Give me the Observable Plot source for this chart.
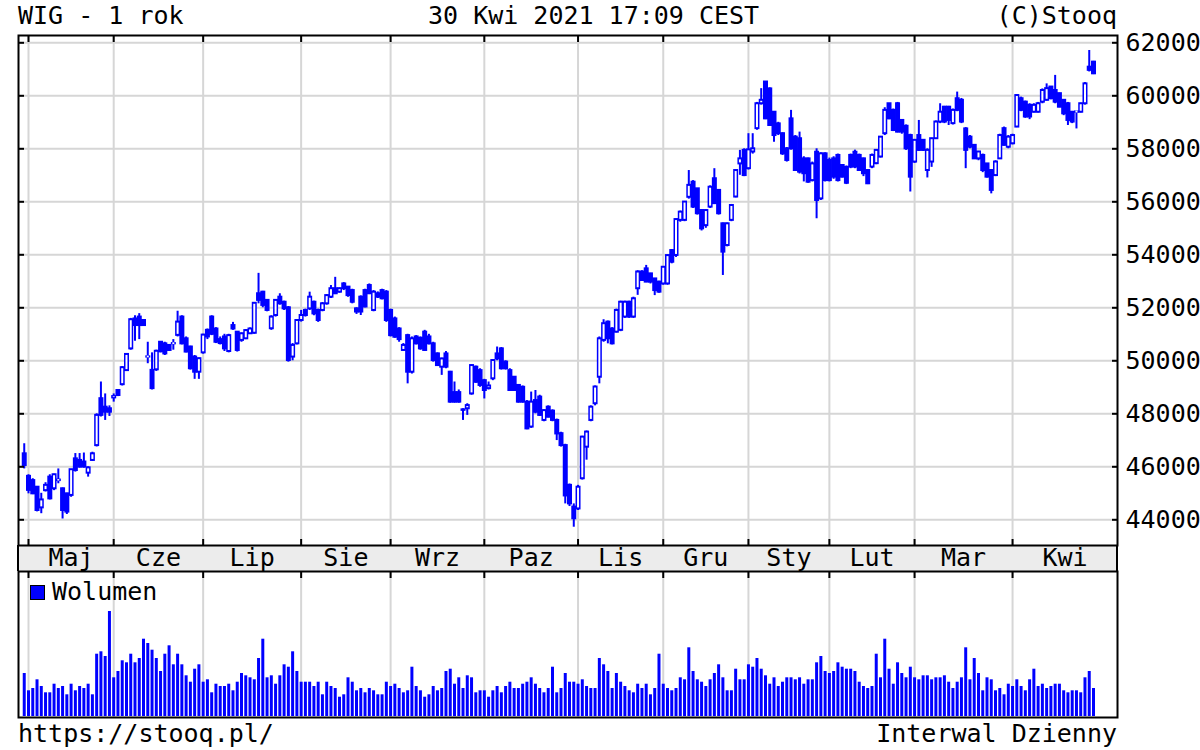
<!DOCTYPE html>
<html><head><meta charset="utf-8">
<script src="https://cdn.jsdelivr.net/npm/d3@7"></script>
<script src="https://cdn.jsdelivr.net/npm/@observablehq/plot@0.6"></script>
<style>
body{margin:0;background:#fff;}
#wrap{position:relative;width:1200px;height:750px;font-family:"DejaVu Sans Mono",monospace;font-size:25px;color:#000;overflow:hidden;}
.t{position:absolute;line-height:25px;white-space:pre;}
#band{position:absolute;left:17px;top:545px;width:1101px;height:26px;background:#ececec;box-sizing:border-box;border-left:2px solid #000;border-right:2px solid #000;}
#price,#vol{position:absolute;left:0;}
#price{top:35px;}
#vol{top:570px;}
#legsq{position:absolute;left:30px;top:585px;width:13px;height:13px;background:#0000ff;border:1.5px solid #000;}
</style></head><body>
<div id="wrap">
  <div class="t" style="left:18px;top:3px">WIG - 1 rok</div>
  <div class="t" style="left:428px;top:3px">30 Kwi 2021 17:09 CEST</div>
  <div class="t" style="right:83px;top:3px">(C)Stooq</div>
  <div id="band"></div>
  <div id="price"></div>
  <div id="vol"></div>
  <div id="legsq"></div>
  <div class="t" style="left:52px;top:579px">Wolumen</div>
  <div class="t" style="left:18px;top:721px">https://stooq.pl/</div>
  <div class="t" style="right:83px;top:721px">Interwal Dzienny</div>
</div>
<script>
// Trading-day index 0 = 30 Apr 2020 ... 251 = 30 Apr 2021
const monthNames = ["Maj","Cze","Lip","Sie","Wrz","Paz","Lis","Gru","Sty","Lut","Mar","Kwi"];
const monthStart = [1,21,42,65,86,108,130,150,170,189,209,232];
const priceTicks = [44000,46000,48000,50000,52000,54000,56000,58000,60000,62000];

const open = [
46490,45640,45480,45230,44450,45100,45610,45170,45480,45170,
44980,44920,46300,46240,46180,45760,46240,46800,48570,48250,
48190,48600,48880,49100,49630,50450,51580,51650,51520,50140,
49640,49660,50700,50640,50580,50640,50960,51650,50830,50520,
50140,49570,50300,51150,51650,51200,50800,50900,50350,51330,
51080,50770,50830,51020,51040,52530,52590,52280,51210,51710,
52400,52210,52000,50140,50640,51520,51900,51960,52210,51900,
51900,52150,52400,52720,52590,52900,52780,52650,51960,52400,
52650,52840,51900,52530,52650,52590,51900,51580,51200,50390,
50950,49570,50900,50850,51080,50900,50640,50260,49760,50260,
49570,48800,48800,48150,48190,48750,49760,49630,49250,48950,
49320,50260,50450,49950,49630,49380,49070,49000,48440,47500,
48500,48630,47750,48250,48100,47750,47250,46800,45300,44480,
44410,45550,46740,47750,48380,49380,50770,51460,51200,51080,
51150,51650,52210,51650,52720,53350,53470,53280,53090,52970,
52900,52900,54160,53975,55300,55300,56170,56740,56490,55670,
55100,55800,56870,56430,55170,54350,55300,56180,57430,57940,
57250,57880,58760,59700,60520,60260,59380,58940,58570,58000,
59130,58440,58380,57620,57620,56800,57870,56110,57810,57560,
57620,57750,57370,57300,57750,57870,57750,57620,57180,57310,
57440,57690,58570,59700,59450,59700,59070,58850,58500,57500,
58500,58320,57180,57500,58380,59010,59570,59570,58950,59890,
59830,58750,58440,58130,57620,57750,57430,57180,56990,57620,
58760,58060,58190,58820,59890,59760,59640,59380,59380,59760,
59830,60330,60200,60080,59830,59700,59380,59380,59380,59700,
61080,61270];

const high = [
46870,45700,45550,45250,45000,45400,45700,45720,45920,45200,
45000,45900,46500,46500,46520,46000,46550,48000,49200,48750,
48300,48750,48900,49780,50260,51600,51700,51780,51550,50700,
50300,50400,50720,50700,50600,50800,51870,51700,50900,50550,
50200,50100,51000,51200,51700,51250,50900,51000,51000,51450,
51100,51050,51180,51240,52200,53300,52620,52300,51700,52300,
52530,52250,52050,50650,51550,51900,51950,52590,52250,51950,
52200,52500,52840,53150,52750,52950,52800,52700,52000,52450,
52700,52900,52650,52600,52700,52650,51950,51650,51250,50650,
51000,50900,50950,50900,51150,51000,50700,50300,50100,50350,
49600,49200,48900,48190,48380,49850,49800,49700,49300,49200,
50050,50520,50500,50000,49700,49400,49100,49050,48500,48820,
48880,48700,48150,48300,48150,47800,47300,46850,45350,44600,
45300,47150,47350,48300,49050,50900,51550,51500,51250,51950,
52250,52250,52250,52400,53400,53400,53600,53300,53100,53000,
53550,54000,54200,55350,55650,56000,57180,56800,56500,55700,
55700,56600,57250,56450,55200,55200,55900,57200,57940,58000,
58570,58570,59750,60270,60520,60300,59400,59000,58600,58050,
59450,58500,58630,57700,57650,57500,58000,57850,57850,57650,
57700,57800,57400,57350,57800,57950,57800,57650,57200,57800,
57950,58450,59550,59700,59500,59750,59100,58900,58550,58350,
59070,58350,58000,58400,59050,59700,59600,59600,59500,60140,
59900,58800,58500,58150,57900,57800,57450,57200,57550,58550,
58820,58500,58550,60050,59950,59800,59700,59700,59750,60260,
60450,60350,60770,60100,59850,59750,59400,59400,59720,60500,
61710,61300];

const low = [
45920,44980,44950,44300,44230,45050,44750,45100,45360,44030,
44200,44850,45800,45950,45950,45610,46200,46750,47880,47750,
47900,48440,48650,49050,49600,50400,50740,50800,51300,49890,
48900,49600,50300,50200,50350,50400,50900,50600,50300,49650,
49300,49300,50250,50800,50950,50650,50600,50350,50300,51150,
50330,50700,50800,51000,51000,52150,52000,51850,51150,51650,
52100,51900,49950,50000,50600,51460,51650,51900,51700,51450,
51850,52100,52350,52500,52550,52650,52400,52150,51750,51710,
52000,52500,51850,52350,52300,51450,50900,50850,50700,50350,
49130,49500,50600,50400,50350,50600,49950,49800,49450,49700,
48400,48400,48400,47750,47940,48700,49150,49000,48560,48900,
49250,50000,49650,49650,48850,48850,48400,48400,47400,47450,
48000,47900,47700,47850,47700,46990,46750,44600,44500,43720,
44350,45500,46250,47700,48300,49130,50700,50640,50600,51050,
51100,51600,51600,51600,52470,53000,52950,52900,52460,52550,
52850,52850,53660,53900,55230,55250,56100,55750,55500,54900,
55000,55750,55900,55500,53220,54300,55250,56150,57000,56950,
57200,57800,58700,59650,59100,58850,58250,58500,57750,57500,
57950,57150,57050,56750,56700,56750,55360,56050,56750,56750,
56850,56750,56900,56650,57250,57250,57150,56950,56650,57250,
57400,57650,58500,59100,58650,58600,58550,57940,56370,57450,
57900,57900,56900,57300,58350,58950,58950,58880,58900,59400,
58950,57250,58000,57600,57550,57100,56900,56300,56950,57600,
58100,58000,58150,58800,59400,59150,59100,59350,59350,59700,
59800,59850,59700,59550,59250,58880,58950,58750,59350,59650,
60900,60800];

const close = [
46050,45110,44980,44350,44750,45300,44790,45700,45500,44350,
44290,45890,45860,45990,45990,45960,46490,47940,47940,48060,
48060,48650,48690,49740,50240,51550,51330,51330,51330,50150,
48950,50360,50340,50260,50390,50650,51460,50640,50330,49700,
49570,50080,50970,50900,51000,50700,50650,50450,50950,51200,
50390,51020,51140,51200,52170,52280,52090,51900,51650,52280,
52150,51960,50010,50580,51520,51710,51710,52400,51770,51520,
52150,52460,52720,52530,52720,52720,52460,52210,51840,51840,
52030,52530,52590,52400,52340,51520,50950,50890,50800,50580,
49570,50830,50640,50450,50390,50640,50010,49820,50070,49760,
48440,48440,48440,48130,48310,49820,49190,49070,48880,49050,
50010,50070,49700,49700,48880,48880,48440,48440,47430,48440,
48060,47940,48120,47870,47750,47240,46800,44900,44600,44040,
45230,47120,47310,48250,49010,50830,51400,50830,50640,51900,
52210,52210,51650,52340,53350,53030,52970,52970,52650,52590,
53530,53970,53720,55330,55610,55990,56620,55800,55550,54980,
55670,56550,55930,55550,54100,55170,55860,57180,57620,56990,
57960,58000,59700,59830,59130,58880,58500,58570,57810,57560,
58000,57180,57120,57060,56740,57430,56050,57810,56800,56800,
56930,56800,56930,56700,57310,57310,57180,57060,56680,57750,
57940,58440,59450,59130,58690,58630,58630,58000,56930,58320,
57940,57940,57940,58380,59010,59380,59010,59070,59450,59450,
59010,57940,58060,57620,57880,57180,56930,56430,57500,58500,
58130,58440,58500,60010,59450,59200,59200,59640,59700,60200,
60270,59890,59760,59570,59320,59070,59010,59390,59700,60450,
60960,60830];

// Wolumen (relative units)
const volume = [
43,25.7,28,36.7,30,23.7,23.7,32.3,28,30,
21.7,32.3,25.7,30,28,32.3,21.7,62.3,64.7,60,
105,38.7,45,55.7,53.7,62.3,53.7,58,77.3,73,
66.3,58,45,62.3,70.7,51.7,62.3,51.7,40.7,34.3,
47.3,51.7,34.3,36.7,23.7,32.3,30,30,32.3,25.7,
34.3,43,40.7,38.7,36.7,58,77.3,38.7,40.7,32.3,
40.7,51.7,49.3,64.7,45,34.3,34.3,34.3,30,34.3,
21.7,34.3,30,28,19.3,21.7,38.7,34.3,25.7,28,
23.7,28,25.7,21.7,21.7,34.3,30,32.3,28,23.7,
25.7,49.3,30,25.7,19.3,21.7,30,25.7,28,45,
47.3,32.3,38.7,28,40.7,38.7,23.7,25.7,25.7,19.3,
25.7,30,23.7,30,34.3,28,28,32.3,34.3,38.7,
32.3,28,23.7,28,49.3,23.7,28,43,34.3,34.3,
32.3,36.7,30,28,28,58,51.7,45,28,43,
34.3,30,25.7,23.7,32.3,28,32.3,21.7,28,62.3,
32.3,28,25.7,28,38.7,36.7,68.7,45,36.7,34.3,
30,36.7,43,51.7,38.7,25.7,25.7,47.3,36.7,36.7,
51.7,49.3,58,47.3,40.7,32.3,38.7,30,34.3,38.7,
38.7,36.7,38.7,32.3,36.7,36.7,53.7,60,45,43,
45,53.7,49.3,47.3,47.3,45,34.3,30,28,30,
62.3,38.7,77.3,47.3,32.3,53.7,43,38.7,49.3,38.7,
36.7,40.7,40.7,36.7,38.7,38.7,40.7,34.3,28,34.3,
38.7,68.7,36.7,58,43,25.7,38.7,36.7,25.7,28,
21.7,32.3,30,36.7,30,25.7,36.7,47.3,30,32.3,
28,30,32.3,32.3,25.7,23.7,25.7,25.7,23.7,38.7,
45,28];

const BLUE = "#0000ff", GRID = "#d6d6d6", FONT = "DejaVu Sans Mono";
const n = close.length;
const X0 = 23.74, DX = 4.26, W = 1200, ML = 18, MR = 83;
const xScale = {domain: [0, n - 1], range: [X0, X0 + DX * (n - 1)]};
const xEnd = (W - MR - X0) / DX;
const monthMid = monthStart.map((s, k) => (s + (k + 1 < monthStart.length ? monthStart[k + 1] : xEnd)) / 2);

const rows = d3.range(n).map(i => ({i, o: open[i], h: high[i], l: low[i], c: close[i]}));
const upRows = rows.filter(d => d.c > d.o);

const price = Plot.plot({
  width: W, height: 535, marginLeft: ML, marginRight: MR, marginTop: 0, marginBottom: 25,
  style: {background: "transparent", fontFamily: FONT, fontSize: "25px", overflow: "visible"},
  x: xScale,
  y: {domain: [44000, 62000], range: [484.3, 7.3]},
  marks: [
    Plot.ruleY(priceTicks, {stroke: GRID, strokeWidth: 2}),
    Plot.ruleX(monthStart, {stroke: GRID, strokeWidth: 2}),
    Plot.ruleX(rows, {x: "i", y1: "l", y2: "h", stroke: BLUE, strokeWidth: 2}),
    Plot.ruleX(rows, {x: "i", y1: d => Math.max(d.o, d.c), y2: d => Math.min(d.o, d.c), stroke: BLUE, strokeWidth: 5, insetTop: -1, insetBottom: -1}),
    Plot.ruleX(upRows, {x: "i", y1: "c", y2: "o", stroke: "white", strokeWidth: 2, insetTop: 1, insetBottom: 1}),
    Plot.frame({stroke: "black", strokeWidth: 2}),
    Plot.axisY(priceTicks, {anchor: "right", tickSize: -6, tickPadding: 14, tickFormat: "d", fontSize: 25, label: null, strokeWidth: 2}),
    Plot.axisY(priceTicks, {anchor: "left", tickSize: -6, tickFormat: () => "", label: null, strokeWidth: 2}),
    Plot.axisX(monthStart, {anchor: "top", tickSize: -6, tickFormat: () => "", label: null, strokeWidth: 2}),
    Plot.axisX(monthStart, {anchor: "bottom", tickSize: -6, tickFormat: () => "", label: null, strokeWidth: 2}),
    Plot.text(monthNames, {x: (d, k) => monthMid[k], frameAnchor: "bottom", dy: 12.5, lineAnchor: "middle", text: d => d, fontSize: 25, fill: "black"})
  ]
});
document.getElementById("price").append(price);

const vrows = volume.map((v, i) => ({i, v}));
const vol = Plot.plot({
  width: W, height: 150, marginLeft: ML, marginRight: MR, marginTop: 1, marginBottom: 3,
  style: {background: "transparent", fontFamily: FONT, fontSize: "25px", overflow: "visible"},
  x: xScale,
  y: {domain: [0, 145], range: [146, 1], axis: null},
  marks: [
    Plot.ruleX(monthStart, {stroke: GRID, strokeWidth: 2}),
    Plot.ruleX(vrows, {x: "i", y1: 0, y2: "v", stroke: BLUE, strokeWidth: 3}),
    Plot.frame({stroke: "black", strokeWidth: 2}),
    Plot.axisX(monthStart, {anchor: "top", tickSize: -6, tickFormat: () => "", label: null, strokeWidth: 2})
  ]
});
document.getElementById("vol").append(vol);
</script>
</body></html>
